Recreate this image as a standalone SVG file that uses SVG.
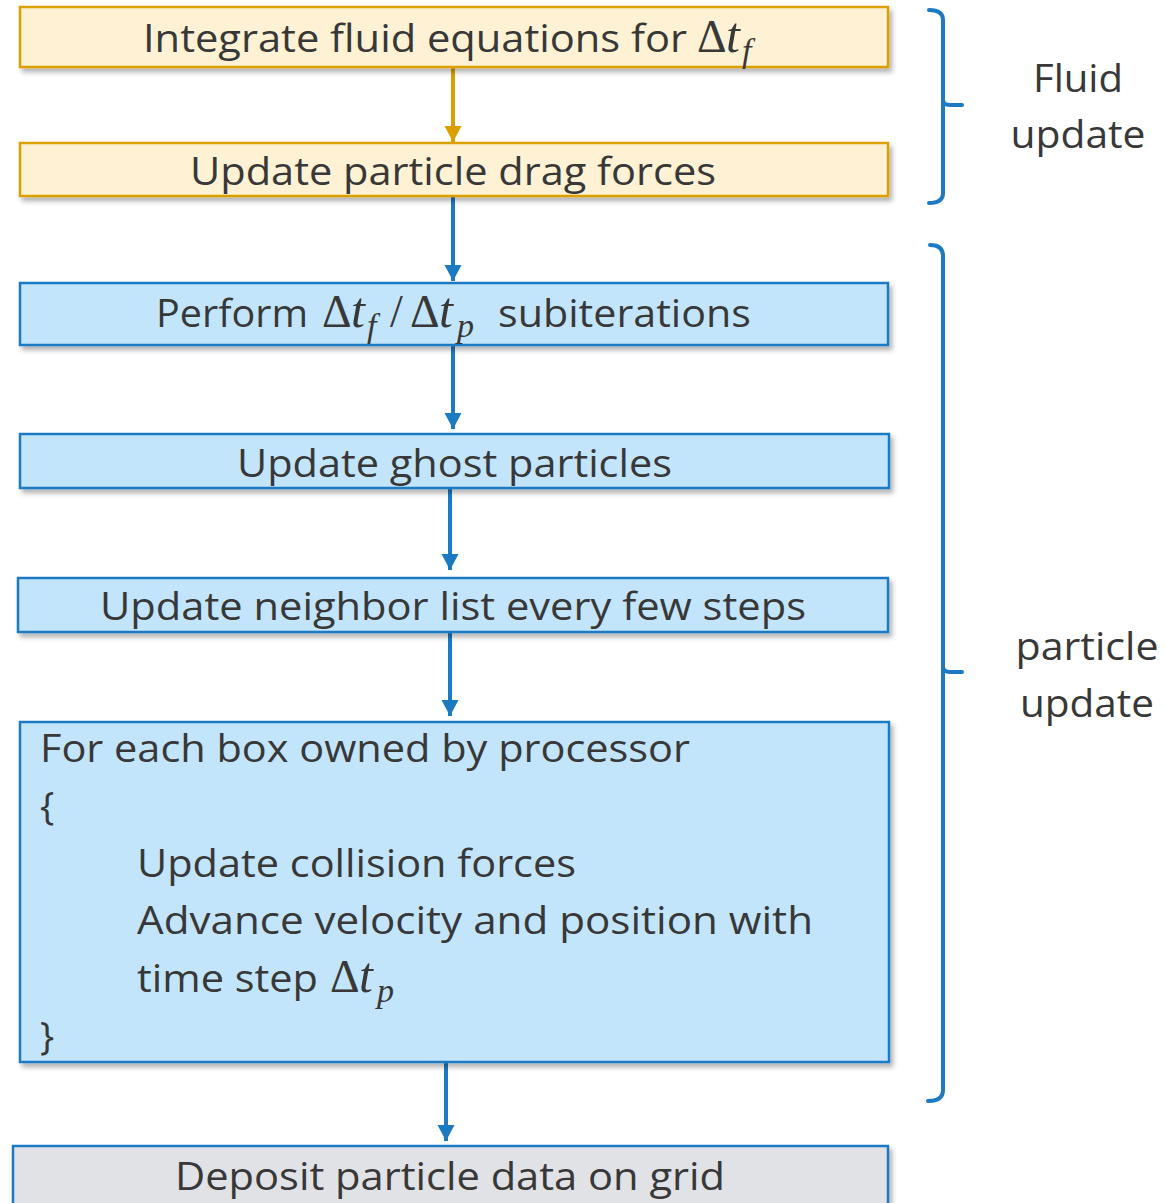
<svg xmlns="http://www.w3.org/2000/svg" width="1166" height="1203" viewBox="0 0 1166 1203">
  <defs>
    <filter id="sh" x="-5%" y="-20%" width="110%" height="150%">
      <feDropShadow dx="3" dy="4" stdDeviation="2.5" flood-color="#000" flood-opacity="0.3"/>
    </filter>
    <marker id="ahO" markerUnits="userSpaceOnUse" markerWidth="18" markerHeight="18" refX="16" refY="8.5" orient="auto">
      <path d="M0,0 L16,8.5 L0,17 z" fill="#DBA000"/>
    </marker>
    <marker id="ahB" markerUnits="userSpaceOnUse" markerWidth="18" markerHeight="18" refX="16" refY="8.5" orient="auto">
      <path d="M0,0 L16,8.5 L0,17 z" fill="#1B7AC2"/>
    </marker>
    <style>
      .fl { fill:#FFF2D4; stroke:#DBA000; stroke-width:2.5; }
      .pb { fill:#C3E5FC; stroke:#1B7AC2; stroke-width:2.5; }
      .gr { fill:#E1E2E5; stroke:#1B7AC2; stroke-width:2.5; }
      .t { font-family:"Open Sans","Noto Sans",sans-serif; font-size:38px; fill:#383838; }
      .m { font-family:"Liberation Serif","DejaVu Serif",serif; font-size:46px; fill:#383838; }
      .mi { font-family:"Liberation Serif","DejaVu Serif",serif; font-size:50px; font-style:italic; fill:#383838; }
      .ms { font-family:"Liberation Serif","DejaVu Serif",serif; font-size:34px; font-style:italic; fill:#383838; }
      .lbl { font-family:"Open Sans","Noto Sans",sans-serif; font-size:38px; fill:#383838; text-anchor:middle; }
      .co { stroke:#DBA000; stroke-width:4; fill:none; }
      .cb { stroke:#1B7AC2; stroke-width:4; fill:none; }
      .br { stroke:#1B7AC2; stroke-width:4; fill:none; stroke-linecap:round; stroke-linejoin:round; }
    </style>
  </defs>

  <g id="connectors">
    <line class="co" x1="453" y1="67" x2="453" y2="142" marker-end="url(#ahO)"/>
    <line class="cb" x1="453" y1="197" x2="453" y2="281" marker-end="url(#ahB)"/>
    <line class="cb" x1="453" y1="346" x2="453" y2="429" marker-end="url(#ahB)"/>
    <line class="cb" x1="450" y1="489" x2="450" y2="570" marker-end="url(#ahB)"/>
    <line class="cb" x1="450" y1="633" x2="450" y2="716" marker-end="url(#ahB)"/>
    <line class="cb" x1="446" y1="1063" x2="446" y2="1141" marker-end="url(#ahB)"/>
  </g>

  <g id="node-integrate">
    <rect class="fl" x="20" y="7" width="868" height="60" filter="url(#sh)"/>
    <text class="t" x="143" y="52" textLength="544" lengthAdjust="spacingAndGlyphs">Integrate fluid equations for</text>
    <text class="m" x="697" y="52">Δ</text>
    <text class="mi" x="726" y="52">t</text>
    <text class="ms" x="742" y="62">f</text>
  </g>

  <g id="node-drag">
    <rect class="fl" x="20" y="143" width="868" height="53" filter="url(#sh)"/>
    <text class="t" x="190" y="185" textLength="526" lengthAdjust="spacingAndGlyphs">Update particle drag forces</text>
  </g>

  <g id="node-perform">
    <rect class="pb" x="20" y="283" width="868" height="62" filter="url(#sh)"/>
    <text class="t" x="156" y="327" textLength="152" lengthAdjust="spacingAndGlyphs">Perform</text>
    <text class="m" x="322" y="327">Δ</text>
    <text class="mi" x="351" y="327">t</text>
    <text class="ms" x="367" y="337">f</text>
    <text class="m" x="390" y="327" font-size="50">/</text>
    <text class="m" x="410" y="327">Δ</text>
    <text class="mi" x="439" y="327">t</text>
    <text class="ms" x="457" y="337">p</text>
    <text class="t" x="498" y="327" textLength="253" lengthAdjust="spacingAndGlyphs">subiterations</text>
  </g>

  <g id="node-ghost">
    <rect class="pb" x="20" y="434" width="869" height="54" filter="url(#sh)"/>
    <text class="t" x="237" y="477" textLength="435" lengthAdjust="spacingAndGlyphs">Update ghost particles</text>
  </g>

  <g id="node-neighbor">
    <rect class="pb" x="18" y="578" width="870" height="54" filter="url(#sh)"/>
    <text class="t" x="100" y="620" textLength="706" lengthAdjust="spacingAndGlyphs">Update neighbor list every few steps</text>
  </g>

  <g id="node-foreach">
    <rect class="pb" x="20" y="722" width="869" height="340" filter="url(#sh)"/>
    <text class="t" x="40" y="762" textLength="650" lengthAdjust="spacingAndGlyphs">For each box owned by processor</text>
    <text class="t" x="40" y="820">{</text>
    <text class="t" x="137" y="877" textLength="439" lengthAdjust="spacingAndGlyphs">Update collision forces</text>
    <text class="t" x="137" y="934" textLength="676" lengthAdjust="spacingAndGlyphs">Advance velocity and position with</text>
    <text class="t" x="137" y="992" textLength="181" lengthAdjust="spacingAndGlyphs">time step</text>
    <text class="m" x="330" y="992">Δ</text>
    <text class="mi" x="359" y="992">t</text>
    <text class="ms" x="377" y="1002">p</text>
    <text class="t" x="40" y="1050">}</text>
  </g>

  <g id="node-deposit">
    <rect class="gr" x="13" y="1146" width="875" height="70" filter="url(#sh)"/>
    <text class="t" x="175" y="1190" textLength="550" lengthAdjust="spacingAndGlyphs">Deposit particle data on grid</text>
  </g>

  <g id="brace-fluid">
    <path class="br" d="M929,10 Q943,10 943,20 V193 Q943,203 929,203"/>
    <path class="br" d="M943,100 Q943,105 950,105 H962"/>
    <text class="lbl" x="1078" y="92" textLength="90" lengthAdjust="spacingAndGlyphs">Fluid</text>
    <text class="lbl" x="1078" y="148" textLength="135" lengthAdjust="spacingAndGlyphs">update</text>
  </g>

  <g id="brace-particle">
    <path class="br" d="M930,245 Q943,245 943,256 V1090 Q943,1101 928,1101"/>
    <path class="br" d="M943,667 Q943,672 950,672 H962"/>
    <text class="lbl" x="1087" y="660" textLength="143" lengthAdjust="spacingAndGlyphs">particle</text>
    <text class="lbl" x="1087" y="717" textLength="134" lengthAdjust="spacingAndGlyphs">update</text>
  </g>
</svg>
